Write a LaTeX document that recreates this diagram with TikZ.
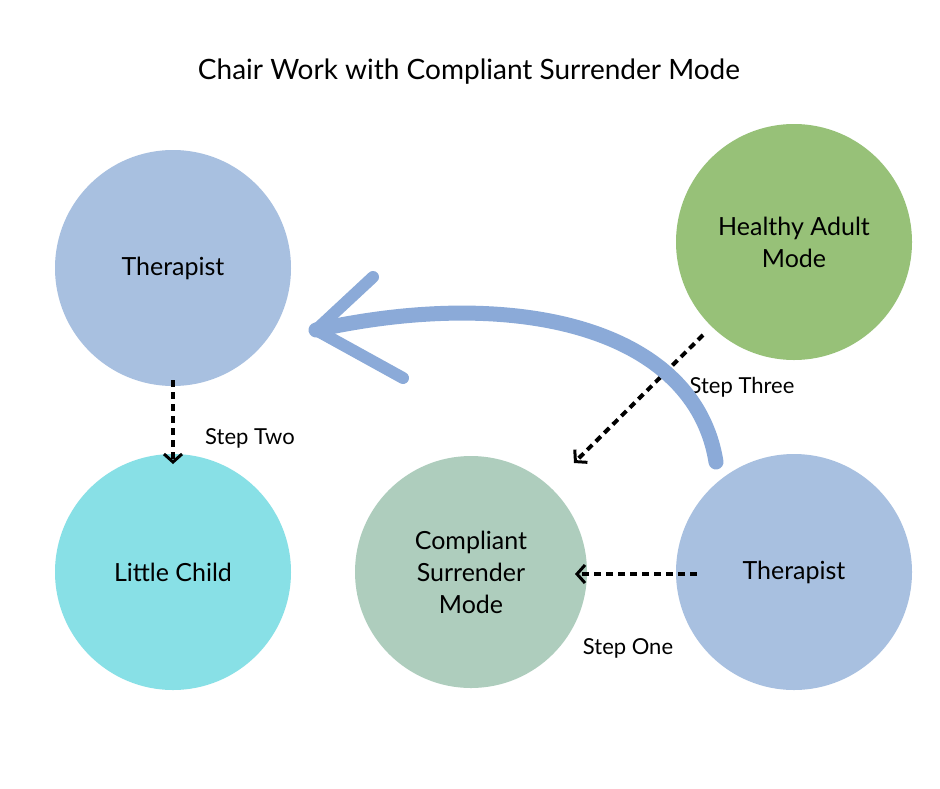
\documentclass[tikz,border=0pt]{standalone}
\usepackage{fontspec}
\setmainfont{Lato}
\usetikzlibrary{arrows.meta}
\definecolor{ther}{HTML}{A8C0E0}
\definecolor{child}{HTML}{88E0E6}
\definecolor{comp}{HTML}{AECDBD}
\definecolor{adult}{HTML}{97C178}
\definecolor{big}{HTML}{8BAAD8}
\begin{document}
\begin{tikzpicture}[x=1pt,y=-1pt,
  circ/.style={circle,minimum size=236pt,inner sep=0pt,align=center,font=\fontsize{25}{30}\selectfont},
  dotarrow/.style={line width=4pt,dash pattern=on 7pt off 5pt,-{Straight Barb[length=8pt,width=18pt,line width=3pt]}},
  lab/.style={font=\fontsize{22}{26}\selectfont}]
\useasboundingbox[fill=white] (0,0) rectangle (940,788);
\node[font=\fontsize{28}{32}\selectfont] (title) at (469,72) {Chair Work with Compliant Surrender Mode};
\node[circ,fill=ther] (t1) at (173,268) {Therapist};
\node[circ,fill=child] (lc) at (173,572) {Little Child};
\node[circ,fill=comp,minimum size=232pt] (cs) at (471,572) {Compliant\\[2pt]Surrender\\[2pt]Mode};
\node[circ,fill=ther] (t2) at (794,572) {Therapist};
\node[circ,fill=adult] (ha) at (794,242) {Healthy Adult\\[2pt]Mode};
\coordinate (s1a) at (697,574); \coordinate (s1b) at (575,574);
\coordinate (s2a) at (173,380); \coordinate (s2b) at (173,464);
\coordinate (s3a) at (703,335); \coordinate (s3b) at (574,463);
\draw[dotarrow] (s1a) -- (s1b);
\draw[dotarrow] (s2a) -- (s2b);
\draw[dotarrow] (s3a) -- (s3b);
\node[lab] (l1) at (628,648) {Step One};
\node[lab] (l2) at (250,438) {Step Two};
\node[lab] (l3) at (742,387) {Step Three};
\coordinate (ba) at (716,462); \coordinate (bh) at (316,330);
\coordinate (bu) at (373,277); \coordinate (bd) at (403,378);
\draw[big,line width=15pt,line cap=round] (ba) .. controls (695,330) and (520,285) .. (bh);
\draw[big,line width=12pt,line cap=round,line join=round] (bu) -- (bh) -- (bd);
\end{tikzpicture}
\end{document}
